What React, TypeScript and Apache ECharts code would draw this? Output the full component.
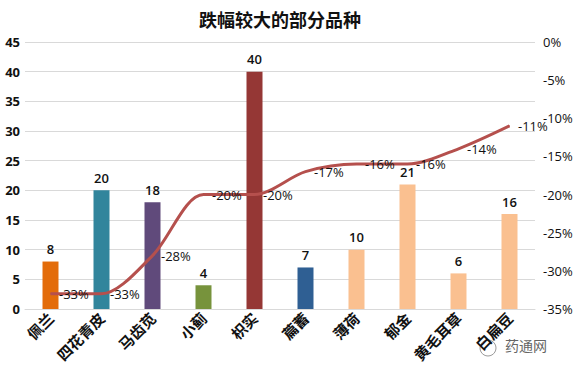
import React, { useEffect, useRef } from "react";
import * as echarts from "echarts";

const categories = ["佩兰", "四花青皮", "马齿苋", "小蓟", "枳实", "萹蓄", "薄荷", "郁金", "黄毛耳草", "白扁豆"];
const amounts = [8, 20, 18, 4, 40, 7, 10, 21, 6, 16];
const changes = [-33, -33, -28, -20, -20, -17, -16, -16, -14, -11];
const barColors = ["#E36C0A", "#31859C", "#604A7B", "#77933C", "#953735", "#2F5F93", "#FAC090", "#FAC090", "#FAC090", "#FAC090"];

export default function App() {
  const ref = useRef<HTMLDivElement>(null);
  useEffect(() => {
    const chart = echarts.init(ref.current!, null, { renderer: "svg" });
    chart.setOption({
      animation: false,
      backgroundColor: "#fff",
      title: {
        text: "跌幅较大的部分品种",
        left: 275,
        textAlign: "center",
        top: 5,
        textStyle: { fontFamily: "Noto Sans CJK SC", fontWeight: "bold", fontSize: 18, color: "#111" },
      },
      grid: { left: 25, right: 41, top: 42, bottom: 67, containLabel: false },
      xAxis: {
        type: "category",
        data: categories,
        axisLine: { lineStyle: { color: "#d9d9d9" } },
        axisTick: { show: false },
        axisLabel: {
          interval: 0,
          rotate: 45,
          fontFamily: "Noto Sans CJK SC",
          fontWeight: "bold",
          fontSize: 15,
          color: "#111",
          margin: 6,
        },
      },
      yAxis: [
        {
          type: "value",
          min: 0,
          max: 45,
          interval: 5,
          axisLine: { show: false },
          axisTick: { show: false },
          splitLine: { lineStyle: { color: "#d9d9d9" } },
          axisLabel: { fontFamily: "Open Sans", fontWeight: "bold", fontSize: 13, color: "#111", margin: 5 },
        },
        {
          type: "value",
          min: -35,
          max: 0,
          interval: 5,
          axisLine: { show: false },
          axisTick: { show: false },
          splitLine: { show: false },
          axisLabel: { formatter: "{value}%", fontFamily: "Open Sans", fontSize: 13, color: "#111", margin: 8 },
        },
      ],
      series: [
        {
          type: "bar",
          data: amounts.map((v, i) => ({ value: v, itemStyle: { color: barColors[i] } })),
          barWidth: 16,
          label: { show: true, position: "top", fontFamily: "Open Sans", fontWeight: 600, fontSize: 13, color: "#111", distance: 6 },
        },
        {
          type: "line",
          yAxisIndex: 1,
          data: changes,
          smooth: 0.3,
          symbol: "circle",
          symbolSize: 1,
          showSymbol: true,
          itemStyle: { color: "#B5504D" },
          lineStyle: { color: "#B5504D", width: 3 },
          label: {
            show: true,
            position: "right",
            formatter: "{c}%",
            fontFamily: "Open Sans",
            fontSize: 13,
            color: "#111",
            distance: 8,
          },
        },
      ],
      graphic: [
        {
          type: "text",
          left: 505,
          top: 338,
          style: { text: "药通网", fontFamily: "Noto Sans CJK SC", fontSize: 14, fill: "#666" },
        },
        {
          type: "circle",
          shape: { cx: 488, cy: 348, r: 8 },
          style: { fill: "none", stroke: "#999", lineWidth: 1 },
        },
      ],
    });
    return () => chart.dispose();
  }, []);
  return <div ref={ref} style={{ width: 576, height: 376, position: "absolute", left: 0, top: 0 }} />;
}
